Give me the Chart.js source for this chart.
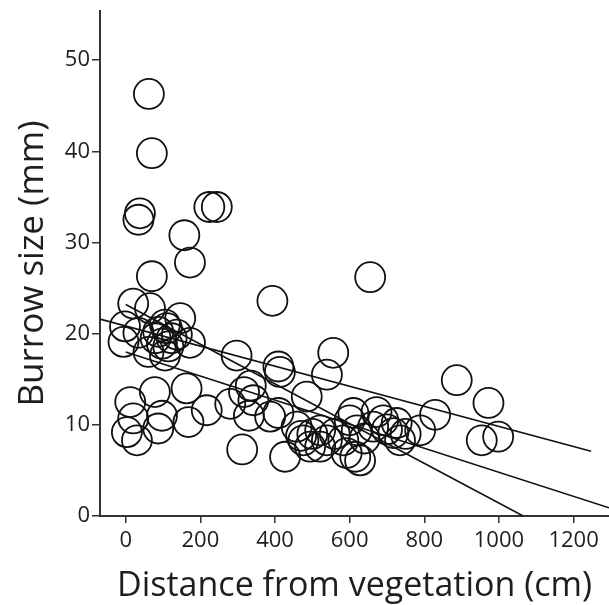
<!DOCTYPE html>
<html>
<head>
<meta charset="utf-8">
<script src="https://cdn.jsdelivr.net/npm/chart.js@4/dist/chart.umd.min.js"></script>
<style>
  html, body { margin: 0; padding: 0; background: #ffffff; }
  #wrap { width: 609px; height: 605px; }
</style>
</head>
<body>
<div id="wrap"><canvas id="c" width="609" height="605"></canvas></div>
<script>
// Distance from vegetation (cm) and burrow size (mm) for each burrow
const distanceCm = [
  62, 70, 38, 34, 157, 172, 224, 244, 70, 393, 655,
  20, 65, 146, -2, -6, 34, 61, 87, 110, 123, 97, 114, 137, 105, 172, 105, 80, 297,
  409, 413, 556, 539, 485,
  12, 78, 163, 20, 3, 30, 87, 97, 168, 217, 280, 317, 342, 312, 335, 330,
  387, 409, 458, 427, 476, 494, 521, 521, 539, 500, 470, 560, 610, 619, 615, 628,
  592, 583, 600, 672, 690, 663, 726, 735, 717, 789, 829, 887, 972, 954, 998, 640, 700, 750
];
const burrowMm = [
  46.3, 39.8, 33.2, 32.5, 30.8, 27.8, 33.9, 33.9, 26.3, 23.6, 26.2,
  23.3, 22.8, 21.7, 20.8, 19.1, 20.1, 18.0, 20.2, 20.6, 19.5, 18.9, 18.6, 19.9, 21.0, 19.0, 17.6, 19.5, 17.6,
  16.4, 15.8, 17.9, 15.5, 13.1,
  12.5, 13.6, 14.0, 10.7, 9.2, 8.3, 9.6, 11.0, 10.3, 11.6, 12.3, 13.6, 12.7, 7.3, 14.3, 11.0,
  10.9, 11.3, 9.8, 6.5, 8.3, 7.6, 7.6, 9.4, 8.3, 9.0, 8.8, 9.0, 11.3, 9.4, 6.5, 6.1,
  6.9, 8.3, 10.5, 11.4, 10.5, 9.8, 10.2, 8.3, 9.1, 9.4, 11.1, 14.9, 12.4, 8.3, 8.7, 8.5, 9.5, 9.0
];

// Fitted lines: endpoints [x, y]
const lineA = [[-69, 21.6], [1247, 7.1]];
const lineB = [[0, 23.2], [1065, 0]];
const lineC = [[0, 18.0], [1295, 0.9]];

// Axis ticks
const xTickValues = [0, 200, 400, 600, 800, 1000, 1200];
const yTickValues = [0, 10, 20, 30, 40, 50];
const xRange = [-69, 1295];
const yRange = [0, 55.4];

const ink = '#111111';
const axisInk = '#333333';
const textInk = '#1e1e1e';
const fontFamily = "'Open Sans', 'Noto Sans', 'DejaVu Sans', sans-serif";

const points = distanceCm.map((x, i) => ({ x: x, y: burrowMm[i] }));
const toXY = arr => arr.map(p => ({ x: p[0], y: p[1] }));

function lineDataset(pts) {
  return {
    type: 'line',
    data: toXY(pts),
    borderColor: ink,
    borderWidth: 1.6,
    pointRadius: 0,
    fill: false,
    tension: 0
  };
}

new Chart(document.getElementById('c'), {
  type: 'scatter',
  data: {
    datasets: [
      {
        data: points,
        pointRadius: 15,
        pointHoverRadius: 15,
        pointBorderWidth: 1.8,
        borderColor: ink,
        backgroundColor: 'rgba(0,0,0,0)',
        pointBackgroundColor: 'rgba(0,0,0,0)',
        clip: false
      },
      lineDataset(lineA),
      lineDataset(lineB),
      lineDataset(lineC)
    ]
  },
  options: {
    responsive: false,
    animation: false,
    devicePixelRatio: 1,
    events: [],
    layout: { autoPadding: false, padding: { top: 11, right: 0, bottom: 0, left: 0 } },
    plugins: { legend: { display: false }, tooltip: { enabled: false } },
    scales: {
      x: {
        type: 'linear',
        min: xRange[0],
        max: xRange[1],
        afterBuildTicks: s => { s.ticks = xTickValues.map(v => ({ value: v })); },
        afterFit: s => { s.height = 89; s.paddingLeft = 0; s.paddingRight = 0; },
        ticks: {
          color: textInk,
          padding: 5,
          maxRotation: 0,
          callback: v => String(v),
          font: { family: fontFamily, size: 22 }
        },
        grid: { drawOnChartArea: false, drawTicks: true, tickLength: 7, color: axisInk, lineWidth: 1.5 },
        border: { display: true, color: axisInk, width: 2 },
        title: {
          display: true,
          text: 'Distance from vegetation (cm)',
          color: textInk,
          padding: { top: 0, bottom: -2 },
          font: { family: fontFamily, size: 34, weight: 'normal' }
        }
      },
      y: {
        type: 'linear',
        min: yRange[0],
        max: yRange[1],
        afterBuildTicks: s => { s.ticks = yTickValues.map(v => ({ value: v })); },
        afterFit: s => { s.width = 100; s.paddingTop = 0; s.paddingBottom = 0; },
        ticks: {
          color: textInk,
          padding: 2,
          callback: v => String(v),
          font: { family: fontFamily, size: 22 }
        },
        grid: { drawOnChartArea: false, drawTicks: true, tickLength: 8, color: axisInk, lineWidth: 1.5 },
        border: { display: true, color: axisInk, width: 2 },
        title: {
          display: true,
          text: 'Burrow size (mm)',
          color: textInk,
          padding: { top: 12, bottom: 0 },
          font: { family: fontFamily, size: 35, weight: 'normal' }
        }
      }
    }
  }
});
</script>
</body>
</html>
